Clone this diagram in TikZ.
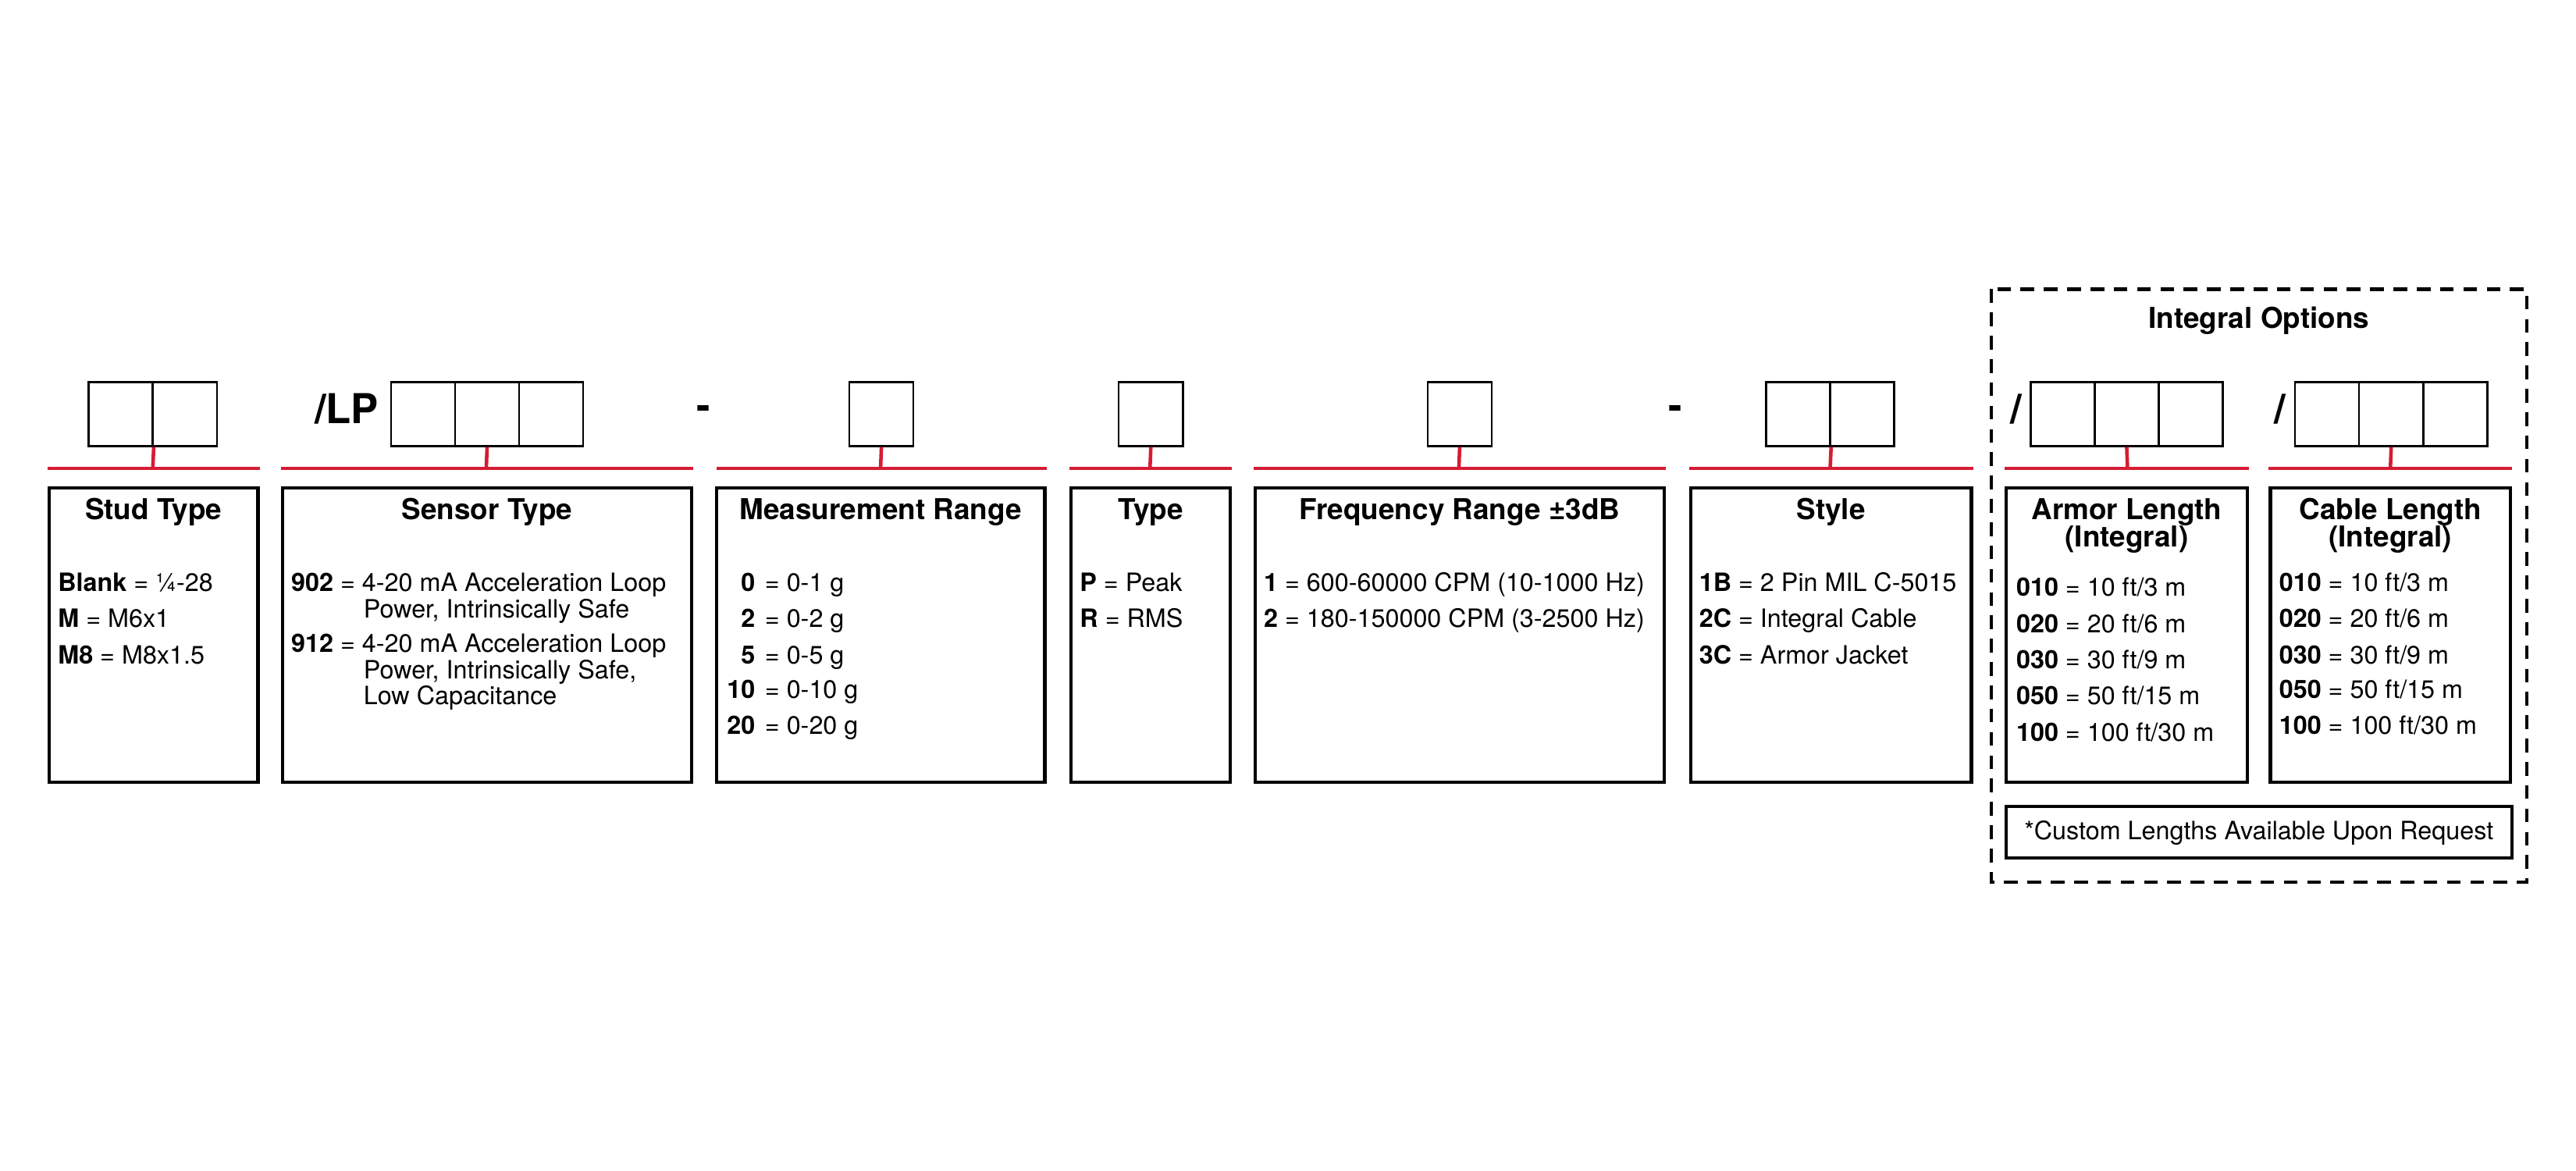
\documentclass[tikz,border=0pt]{standalone}
\usepackage{fontspec}
\setmainfont{TeX Gyre Heros}
\definecolor{rl}{RGB}{214,28,52}
\begin{document}
\begin{tikzpicture}[x=0.02105cm,y=-0.02105cm,
  sq/.style={draw,line width=0.7pt,minimum size=0.821cm,inner sep=0pt},
  bx/.style={draw,line width=1.2pt},
  rline/.style={draw=rl,line width=1.3pt},
  ttl/.style={font=\fontsize{10.5}{11}\selectfont\bfseries,anchor=base,inner sep=0pt},
  tx/.style={font=\fontsize{9.2}{11}\selectfont,anchor=base west,inner sep=0pt},
  big/.style={font=\fontsize{15}{16}\selectfont\bfseries,inner sep=0pt}]
\useasboundingbox (0,0) rectangle (1568,712.6);
% squares
\foreach \n/\x in {s1/73.5,s2/112.5,
  p1/257.5,p2/296.5,p3/335.5,
  m1/536.5,t1/700.5,f1/888.5,
  y1/1094.5,y2/1133.5,
  a1/1255.5,a2/1294.5,a3/1333.5,
  c1/1416.5,c2/1455.5,c3/1494.5}
  \node[sq] (\n) at (\x,252) {};
% red lines
\foreach \l/\r/\t/\k in {29/158/93/a,171/422/296/b,436/637/536/c,651/750/700/d,763/1014/888/e,1028/1201/1114/f,1220/1369/1295/g,1381/1529/1455/h}{
  \draw[rline] (\l,285) -- (\r,285);
  \coordinate (tk\k) at (\t,285);
}
\foreach \s/\k in {p2/b,m1/c,t1/d,f1/e,a2/g,c2/h}
  \draw[rline] (\s.south) -- (tk\k);
\draw[rline] (s1.south east) -- (tka);
\draw[rline] (y1.south east) -- (tkf);
% separators
\node[big,anchor=base] (lp) at (211,258) {/LP};
\node[big] (d1) at (428,251) {-};
\node[big] (d2) at (1020,251) {-};
\node[big,anchor=base] (sl1) at (1227,258) {/};
\node[big,anchor=base] (sl2) at (1388,258) {/};
% boxes
\draw[bx] (30,297) rectangle (157,476);
\draw[bx] (172,297) rectangle (421,476);
\draw[bx] (436,297) rectangle (636,476);
\draw[bx] (652,297) rectangle (749,476);
\draw[bx] (764,297) rectangle (1013,476);
\draw[bx] (1029,297) rectangle (1200,476);
\draw[bx] (1221,297) rectangle (1368,476);
\draw[bx] (1382,297) rectangle (1528,476);
\draw[bx] (1221,491) rectangle (1529,522);
\draw[line width=1.2pt,dash pattern=on 5pt off 3.5pt] (1212,176) rectangle (1538,537);
% titles
\node[ttl] (h0) at (1375,200) {Integral Options};
\node[ttl] (h1) at (93.5,316) {Stud Type};
\node[ttl] (h2) at (296.5,316) {Sensor Type};
\node[ttl] (h3) at (536,316) {Measurement Range};
\node[ttl] (h4) at (700.5,316) {Type};
\node[ttl] (h5) at (888.5,316) {Frequency Range ±3dB};
\node[ttl] (h6) at (1114.5,316) {Style};
\node[ttl] (h7) at (1294.5,316) {Armor Length};
\node[ttl] (h7b) at (1294.5,333) {(Integral)};
\node[ttl] (h8) at (1455,316) {Cable Length};
\node[ttl] (h8b) at (1455,333) {(Integral)};
% stud
\node[tx] at (35,360) {\textbf{Blank} = ¼-28};
\node[tx] at (35,382) {\textbf{M} = M6x1};
\node[tx] at (35,404) {\textbf{M8} = M8x1.5};
% sensor
\node[tx] at (177,360) {\textbf{902} = 4-20 mA Acceleration Loop};
\node[tx] at (221,376) {Power, Intrinsically Safe};
\node[tx] at (177,397) {\textbf{912} = 4-20 mA Acceleration Loop};
\node[tx] at (221,413) {Power, Intrinsically Safe,};
\node[tx] at (221,429) {Low Capacitance};
% measurement
\foreach \a/\b/\y in {0/{0-1 g}/360,2/{0-2 g}/382,5/{0-5 g}/404,10/{0-10 g}/425,20/{0-20 g}/447}{
  \node[tx,anchor=base east] at (460,\y) {\textbf{\a}};
  \node[tx] at (461,\y) {\ = \b};
}
% type
\node[tx] at (657,360) {\textbf{P} = Peak};
\node[tx] at (657,382) {\textbf{R} = RMS};
% freq
\node[tx] at (769,360) {\textbf{1} = 600-60000 CPM (10-1000 Hz)};
\node[tx] at (769,382) {\textbf{2} = 180-150000 CPM (3-2500 Hz)};
% style
\node[tx] at (1034,360) {\textbf{1B} = 2 Pin MIL C-5015};
\node[tx] at (1034,382) {\textbf{2C} = Integral Cable};
\node[tx] at (1034,404) {\textbf{3C} = Armor Jacket};
% lengths
\foreach \c/\l/\y in {010/{10 ft/3 m}/363,020/{20 ft/6 m}/385,030/{30 ft/9 m}/407,050/{50 ft/15 m}/429,100/{100 ft/30 m}/451}{
  \node[tx] at (1227,\y) {\textbf{\c} = \l};
}
\foreach \c/\l/\y in {010/{10 ft/3 m}/360,020/{20 ft/6 m}/382,030/{30 ft/9 m}/404,050/{50 ft/15 m}/425,100/{100 ft/30 m}/447}{
  \node[tx] at (1387,\y) {\textbf{\c} = \l};
}
\node[tx,anchor=base] (cu) at (1375,511) {*Custom Lengths Available Upon Request};
\end{tikzpicture}
\end{document}
